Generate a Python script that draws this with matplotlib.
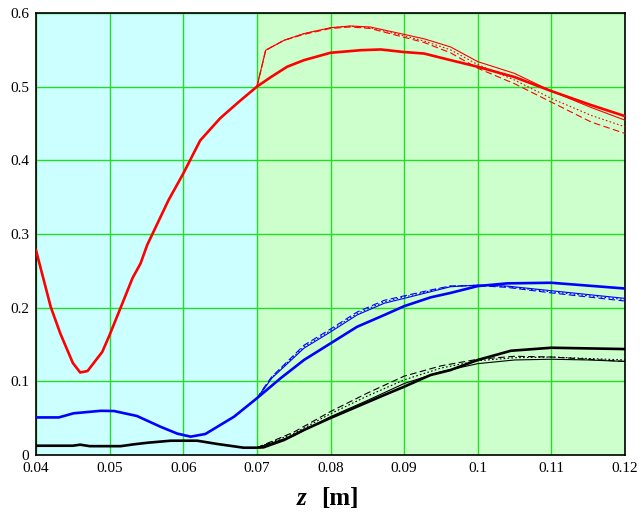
import matplotlib
matplotlib.use("Agg")
import matplotlib.pyplot as plt

# ---- data ----
red_z = [0.040, 0.042, 0.0433, 0.045, 0.046, 0.047, 0.049, 0.050, 0.0519, 0.0531, 0.0542, 0.0551,
         0.058, 0.060, 0.0623, 0.065, 0.0675, 0.070, 0.0719, 0.0741, 0.0764, 0.080, 0.0841, 0.0868,
         0.090, 0.0927, 0.0963, 0.100, 0.105, 0.110, 0.1154, 0.120]
red_y = [0.278, 0.201, 0.165, 0.125, 0.112, 0.114, 0.140, 0.163, 0.210, 0.240, 0.260, 0.285,
         0.346, 0.382, 0.427, 0.457, 0.479, 0.500, 0.513, 0.527, 0.536, 0.546, 0.5495, 0.5505,
         0.547, 0.545, 0.536, 0.527, 0.513, 0.494, 0.475, 0.460]

red_thin_z = [0.070, 0.0712, 0.0737, 0.0764, 0.080, 0.0827, 0.0854, 0.090, 0.0927, 0.0963,
              0.100, 0.105, 0.110, 0.1154, 0.120]
red_thin_solid = [0.500, 0.5495, 0.563, 0.572, 0.580, 0.5824, 0.581, 0.571, 0.565, 0.554,
                  0.534, 0.518, 0.494, 0.4717, 0.4545]
red_thin_dot = [0.500, 0.5495, 0.563, 0.572, 0.580, 0.5822, 0.580, 0.569, 0.562, 0.550,
                0.530, 0.509, 0.484, 0.461, 0.4455]
red_thin_dash = [0.500, 0.5495, 0.563, 0.571, 0.579, 0.581, 0.579, 0.567, 0.560, 0.546,
                 0.525, 0.504, 0.479, 0.452, 0.4365]

blue_z = [0.040, 0.0431, 0.0451, 0.0488, 0.0506, 0.0537, 0.0569, 0.0592, 0.061, 0.063, 0.0669,
          0.070, 0.0732, 0.0764, 0.080, 0.0836, 0.0873, 0.090, 0.0936, 0.0963, 0.100, 0.104,
          0.110, 0.120]
blue_y = [0.051, 0.051, 0.0566, 0.060, 0.0597, 0.053, 0.0384, 0.029, 0.0249, 0.0285, 0.052,
          0.077, 0.104, 0.129, 0.1515, 0.174, 0.190, 0.202, 0.214, 0.220, 0.2293, 0.233,
          0.2338, 0.226]

blue_thin_z = [0.070, 0.071, 0.072, 0.0764, 0.080, 0.0836, 0.0873, 0.090, 0.0936, 0.0963,
               0.100, 0.104, 0.110, 0.120]
blue_thin_solid = [0.077, 0.090, 0.104, 0.145, 0.167, 0.190, 0.206, 0.2126, 0.2216, 0.2284,
                   0.2307, 0.2293, 0.2230, 0.2126]
blue_thin_dot = [0.077, 0.091, 0.105, 0.147, 0.169, 0.192, 0.208, 0.2145, 0.2230, 0.2290,
                 0.2305, 0.2285, 0.2215, 0.211]
blue_thin_dash = [0.077, 0.092, 0.106, 0.149, 0.171, 0.194, 0.210, 0.2160, 0.2240, 0.2295,
                  0.2300, 0.2275, 0.2200, 0.209]

black_z = [0.040, 0.045, 0.046, 0.0473, 0.0515, 0.0533, 0.0552, 0.0583, 0.0619, 0.0646, 0.0682,
           0.070, 0.0709, 0.0737, 0.0764, 0.0799, 0.0836, 0.0873, 0.090, 0.0936, 0.0963, 0.100,
           0.1045, 0.110, 0.120]
black_y = [0.0126, 0.0126, 0.014, 0.012, 0.012, 0.0145, 0.0167, 0.0194, 0.0194, 0.015, 0.0099,
           0.0099, 0.0104, 0.0204, 0.034, 0.0498, 0.0656, 0.0814, 0.0927, 0.1086, 0.1153, 0.129,
           0.1415, 0.1456, 0.1438]

black_thin_z = [0.070, 0.075, 0.080, 0.085, 0.090, 0.095, 0.100, 0.105, 0.110, 0.115, 0.120]
black_thin_solid = [0.0099, 0.026, 0.052, 0.074, 0.097, 0.113, 0.124, 0.129, 0.130, 0.129, 0.127]
black_thin_dot = [0.0099, 0.029, 0.056, 0.080, 0.102, 0.118, 0.128, 0.132, 0.133, 0.131, 0.129]
black_thin_dash = [0.0099, 0.031, 0.059, 0.084, 0.107, 0.121, 0.130, 0.134, 0.133, 0.130, 0.127]

x_ticks = [0.04, 0.05, 0.06, 0.07, 0.08, 0.09, 0.1, 0.11, 0.12]
x_labels = ["0.04", "0.05", "0.06", "0.07", "0.08", "0.09", "0.1", "0.11", "0.12"]
y_ticks = [0, 0.1, 0.2, 0.3, 0.4, 0.5, 0.6]
y_labels = ["0", "0.1", "0.2", "0.3", "0.4", "0.5", "0.6"]
split_z = 0.07

# ---- figure ----
fig = plt.figure(figsize=(6.4, 5.13), dpi=100)
ax = fig.add_axes([36 / 640, (513 - 455) / 513, (625 - 36) / 640, (455 - 13) / 513])
ax.set_xlim(0.04, 0.12)
ax.set_ylim(0, 0.6)

ax.axvspan(0.04, split_z, color="#CCFFFF", zorder=0, lw=0)
ax.axvspan(split_z, 0.12, color="#CCFFCC", zorder=0, lw=0)

ax.set_xticks(x_ticks)
ax.set_xticklabels(x_labels)
ax.set_yticks(y_ticks)
ax.set_yticklabels(y_labels)
ax.grid(True, color="#22DD22", lw=1.0, zorder=1)
ax.set_axisbelow(True)
ax.tick_params(length=0, pad=5, labelsize=11)
for lab in ax.get_xticklabels() + ax.get_yticklabels():
    lab.set_family("Liberation Serif")
for s in ax.spines.values():
    s.set_color("black")
    s.set_linewidth(1.2)

thick = 1.9
thin = 0.8
for c, z, ys, zt, solid, dot, dash in [
    ("#FF0000", red_z, red_y, red_thin_z, red_thin_solid, red_thin_dot, red_thin_dash),
    ("#0000FF", blue_z, blue_y, blue_thin_z, blue_thin_solid, blue_thin_dot, blue_thin_dash),
    ("#000000", black_z, black_y, black_thin_z, black_thin_solid, black_thin_dot, black_thin_dash),
]:
    ax.plot(zt, solid, color=c, lw=thin, zorder=3)
    ax.plot(zt, dot, color=c, lw=thin, ls=(0, (1.5, 2)), zorder=3)
    ax.plot(zt, dash, color=c, lw=thin, ls=(0, (6, 3)), zorder=3)
    ax.plot(z, ys, color=c, lw=thick, zorder=4)

fig.text(306 / 640, (513 - 505) / 513, "z", family="Liberation Serif", style="italic",
         weight="bold", fontsize=18, ha="right", va="baseline")
fig.text(321 / 640, (513 - 505) / 513, "[m]", family="Liberation Serif",
         weight="bold", fontsize=18, ha="left", va="baseline")

fig.savefig("out.png", dpi=100)
